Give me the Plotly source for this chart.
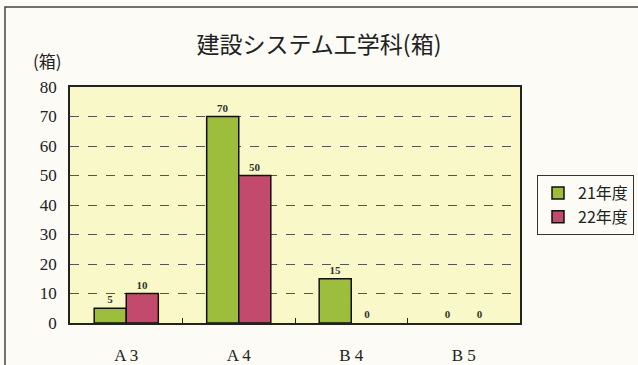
import plotly.graph_objects as go

categories = ["A 3", "A 4", "B 4", "B 5"]
series_names = ["21年度", "22年度"]
values_21 = [5, 70, 15, 0]
values_22 = [10, 50, 0, 0]

SERIF = "Liberation Serif, DejaVu Serif, serif"
JP = "Noto Sans CJK JP"

fig = go.Figure()
for name, vals, colour in [(series_names[0], values_21, "#9dbd3c"),
                           (series_names[1], values_22, "#c24b6d")]:
    fig.add_trace(go.Bar(
        x=categories,
        y=vals,
        name=name,
        marker=dict(color=colour,
                    line=dict(color="#111111", width=[1.5 if v else 0 for v in vals])),
        text=["<b>%d</b>" % v for v in vals],
        textposition="outside",
        textfont=dict(family=SERIF, size=11, color="#333333"),
        cliponaxis=False,
    ))

fig.update_layout(
    width=638, height=365,
    margin=dict(l=70, r=118, t=87, b=42, autoexpand=False),
    paper_bgcolor="#fcfbf5",
    plot_bgcolor="#f9f8c8",
    barmode="group",
    bargap=0.43,
    bargroupgap=0,
    title=dict(text="建設システム工学科(箱)", x=0.5, xref="container", xanchor="center",
               y=1 - 45 / 365, yanchor="middle", automargin=False,
               font=dict(family=JP, size=23, color="#222222")),
    legend=dict(x=(537 - 70) / 450, y=(323 - 175) / 236, xanchor="left", yanchor="top",
                bordercolor="#333333", borderwidth=1, bgcolor="rgba(0,0,0,0)",
                font=dict(family=JP, size=16, color="#222222"),
                itemwidth=30, tracegroupgap=2),
    showlegend=True,
)

fig.update_yaxes(
    range=[0, 80], dtick=10, automargin=False,
    showgrid=True, gridcolor="#555555", griddash="dash", gridwidth=1,
    showline=True, linecolor="#222222", linewidth=1.5, mirror=True,
    zeroline=False,
    tickfont=dict(family=SERIF, size=17, color="#222222"),
    ticks="", ticklabelstandoff=8,
)
fig.update_xaxes(
    automargin=False,
    showline=True, linecolor="#222222", linewidth=1.5, mirror=True,
    tickson="boundaries", ticks="inside", ticklen=5, tickcolor="#222222",
    tickfont=dict(family=SERIF, size=17, color="#222222"),
    ticklabelstandoff=16,
)

fig.add_annotation(text="(箱)", xref="paper", yref="paper",
                   x=(47 - 70) / 450, y=(323 - 60) / 236,
                   xanchor="center", yanchor="middle",
                   showarrow=False, font=dict(family=JP, size=17, color="#222222"))

# outer frame of the scanned chart
fig.add_shape(type="rect", xref="paper", yref="paper",
              x0=(5 - 70) / 450, x1=(650 - 70) / 450,
              y0=(323 - 375) / 236, y1=(323 - 7) / 236,
              line=dict(color="#444444", width=1.5))

fig.write_html("out.html", config={"displayModeBar": False},
               post_script="document.body.style.margin='0';")
